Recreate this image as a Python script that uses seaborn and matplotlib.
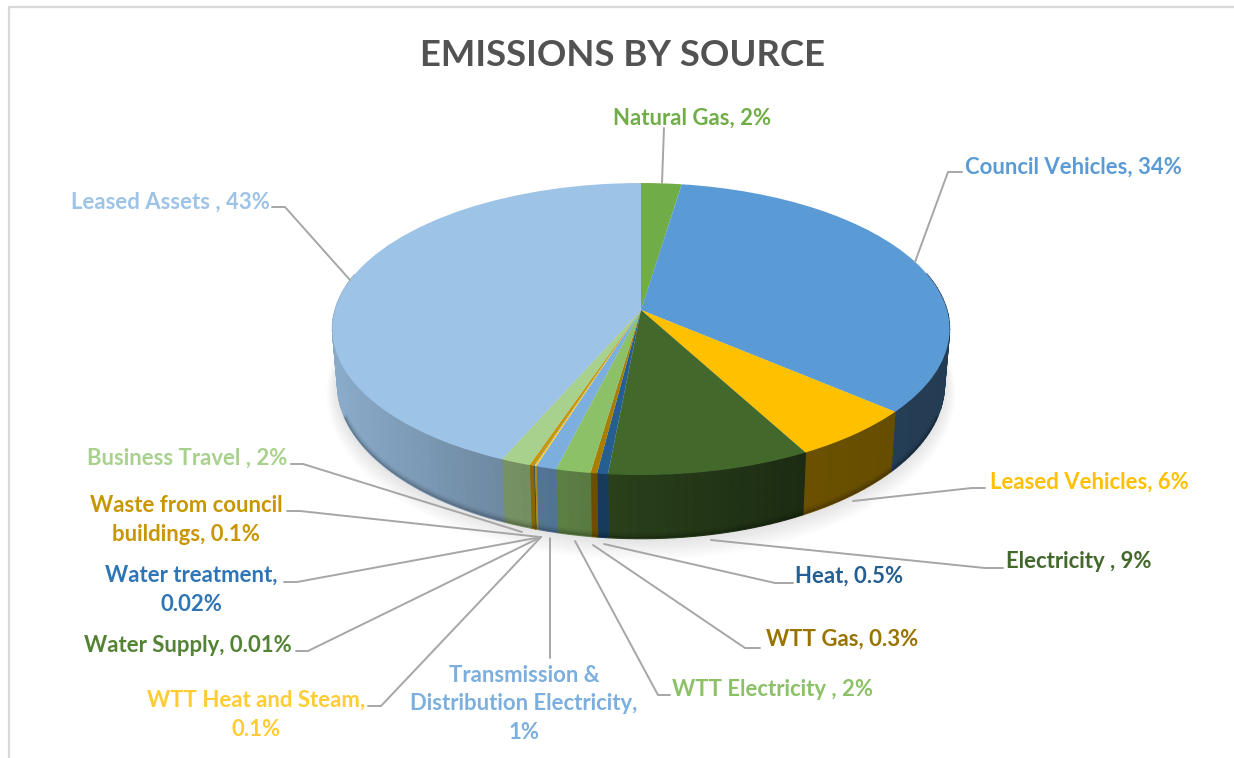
import numpy as np
import seaborn as sns
import matplotlib.pyplot as plt
from matplotlib.transforms import Transform

# Slices, clockwise from twelve o'clock
sources = ["Natural Gas", "Council Vehicles", "Leased Vehicles", "Electricity", "Heat",
           "WTT Gas", "WTT Electricity", "Transmission & Distribution Electricity",
           "WTT Heat and Steam", "Water Supply", "Water treatment",
           "Waste from council buildings", "Business Travel", "Leased Assets"]
shares = [2.4, 33.85, 5.85, 9.4, 0.5, 0.3, 1.6, 0.95, 0.1, 0.01, 0.02, 0.2, 1.37, 43.45]
slice_colors = ["#70ad47", "#5b9bd5", "#ffc000", "#43682b", "#255e91", "#a87d00", "#8cc168",
                "#7cafdd", "#ffcd33", "#548235", "#2e75b6", "#c89600", "#a9d18e", "#9dc3e6"]

# label text, centre x, centre y, colour
labels = [
    ("Natural Gas, 2%", 692, 118, "#70ad47"),
    ("Council Vehicles, 34%", 1073, 167, "#5b9bd5"),
    ("Leased Vehicles, 6%", 1089, 482, "#ffc000"),
    ("Electricity , 9%", 1079, 562, "#43682b"),
    ("Heat, 0.5%", 849, 576, "#255e91"),
    ("WTT Gas, 0.3%", 842, 639, "#997300"),
    ("WTT Electricity , 2%", 772, 689, "#8cc168"),
    ("Transmission &\nDistribution Electricity,\n1%", 524, 704, "#7cafdd"),
    ("WTT Heat and Steam,\n0.1%", 256, 715, "#ffcd33"),
    ("Water Supply, 0.01%", 188, 645, "#548235"),
    ("Water treatment,\n0.02%", 191, 590, "#2e75b6"),
    ("Waste from council\nbuildings, 0.1%", 186, 520, "#c89600"),
    ("Business Travel , 2%", 187, 458, "#a9d18e"),
    ("Leased Assets , 43%", 170, 202, "#9dc3e6"),
]

# leader lines
leaders = [
    [(664, 128), (662, 183)],
    [(962, 172), (948, 172), (915, 262)],
    [(985, 488), (972, 488), (853, 501)],
    [(1003, 568), (985, 568), (711, 540)],
    [(793, 583), (775, 583), (604, 544)],
    [(760, 648), (745, 648), (593, 545)],
    [(670, 695), (658, 695), (575, 541)],
    [(550, 658), (550, 538)],
    [(368, 706), (381, 706), (541, 537)],
    [(296, 651), (308, 651), (541, 537)],
    [(284, 582), (297, 582), (541, 537)],
    [(287, 511), (300, 511), (540, 537)],
    [(291, 464), (303, 464), (522, 532)],
    [(272, 207), (285, 207), (350, 280)],
]

CX, CY = 641, 310
A, B = 306, 143.5
BOT_A, BOT_B, BOT_Y = 301, 152, 364
TILT = 0.13


def ring(theta, a, b, cy, cx=CX):
    u, v = np.cos(theta), np.sin(theta)
    w = 1 + TILT * v
    return cx + a * u / w, cy - b * v / w


class Tilt(Transform):
    # unit pie -> tilted disc in pixel coordinates
    input_dims = output_dims = 2

    def transform_non_affine(self, values):
        u, v = values[:, 0], values[:, 1]
        w = 1 + TILT * v
        return np.column_stack([CX + A * u / w, CY - B * v / w])


sns.set_theme(style="white")
plt.rcParams['font.family'] = ['Lato', 'DejaVu Sans']

fig = plt.figure(figsize=(12.34, 7.58), dpi=100)
ax = fig.add_axes([0, 0, 1, 1])
palette = sns.color_palette(slice_colors)

# top face
wedges, _ = ax.pie(shares, colors=palette, startangle=90, counterclock=False, radius=1)
for w in wedges:
    w.set_transform(Tilt() + ax.transData)
    w.set_zorder(5)
    w.set_linewidth(0)

# soft shadow under the pie
full = np.linspace(0, 2 * np.pi, 240)
for r in np.linspace(20, 1, 14):
    sx, sy = ring(full, BOT_A + 0.55 * r, BOT_B + 0.6 * r, BOT_Y + 0.4 * r)
    ax.fill(sx, sy, color="black", alpha=0.009, lw=0, zorder=1)

# side wall, darker towards the right
fractions = np.cumsum([0] + shares) / sum(shares)
for i, col in enumerate(palette):
    t0 = np.pi / 2 - 2 * np.pi * fractions[i]
    t1 = np.pi / 2 - 2 * np.pi * fractions[i + 1]
    steps = max(1, int(abs(t1 - t0) / np.radians(1.5)))
    ts = np.linspace(t0, t1, steps + 1)
    for a0, a1 in zip(ts[:-1], ts[1:]):
        if np.sin(a0) > 0.25 and np.sin(a1) > 0.25:
            continue
        x0, y0 = ring(np.array([a0, a1]), A, B, CY)
        x1, y1 = ring(np.array([a1, a0]), BOT_A, BOT_B, BOT_Y)
        f = np.interp(x0.mean() - CX, [-300, -140, -30, 160, 300], [0.87, 0.7, 0.62, 0.42, 0.39])
        shade = tuple(c * f for c in col)
        ax.fill(np.r_[x0, x1], np.r_[y0, y1], facecolor=shade, edgecolor=shade, lw=0.8, zorder=2)

# dark blurred edge at the foot of the wall
front = np.linspace(np.radians(200), np.radians(340), 200)
ex, ey = ring(front, BOT_A, BOT_B, BOT_Y)
for lw, al in [(1.0, 0.16), (2.2, 0.09), (3.5, 0.05)]:
    ax.plot(ex, ey - lw, color="black", alpha=al, lw=lw, zorder=3, solid_capstyle="butt")

# leader lines
for pts in leaders:
    xs, ys = zip(*pts)
    ax.plot(xs, ys, color="#a6a6a6", lw=1.4, zorder=6)

for text, x, y, col in labels:
    ax.text(x, y, text, color=col, fontsize=15.9, fontweight="bold", ha="center", va="center",
            linespacing=1.47, zorder=7)

ax.text(622, 56, "EMISSIONS BY SOURCE", color="#525252", fontsize=26.3, fontweight="bold",
        ha="center", va="center")

# chart frame
ax.plot([9, 9, 1234], [758, 7, 7], color="#d9d9d9", lw=1.6, zorder=0)

ax.set_xlim(0, 1234)
ax.set_ylim(758, 0)
ax.set_aspect("auto")
ax.axis("off")
fig.savefig("out.png", dpi=100)
